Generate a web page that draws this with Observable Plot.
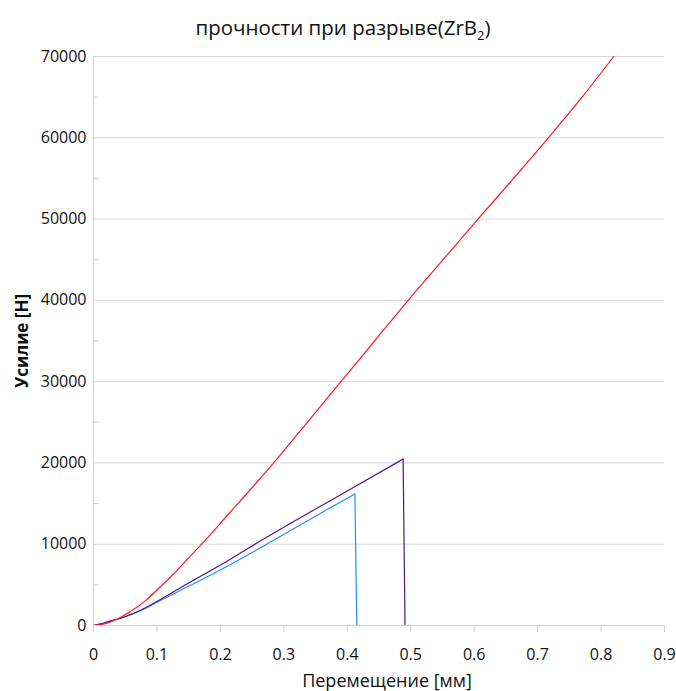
<!DOCTYPE html>
<html>
<head>
<meta charset="utf-8">
<script src="https://cdn.jsdelivr.net/npm/d3@7"></script>
<script src="https://cdn.jsdelivr.net/npm/@observablehq/plot@0.6"></script>
<style>
  html, body { margin: 0; padding: 0; background: #fff; }
  #title { box-sizing: border-box; height: 40px; padding-top: 9px; width: 676px; text-align: center; font-family: "Open Sans", "Noto Sans", sans-serif; font-size: 20.5px; line-height: 36px; color: #111; position: relative; left: 5px; }
  #title sub { font-size: 13px; line-height: 0; }
  svg { display: block; }
</style>
</head>
<body>
<div id="title">прочности при разрыве(ZrB<sub>2</sub>)</div>
<div id="chart"></div>
<script>
const titleText = "прочности при разрыве(ZrB2)";
const xLabel = "Перемещение [мм]";
const yLabel = "Усилие [Н]";
const xTicks = [0, 0.1, 0.2, 0.3, 0.4, 0.5, 0.6, 0.7, 0.8, 0.9];
const yMajor = [0, 10000, 20000, 30000, 40000, 50000, 60000, 70000];
const yMinor = [5000, 15000, 25000, 35000, 45000, 55000, 65000];

// red series
const redX = [0, 0.02, 0.04, 0.06, 0.081, 0.1047, 0.1257, 0.1468, 0.1704, 0.215, 0.2596, 0.284, 0.337, 0.39, 0.443, 0.496, 0.551, 0.606, 0.662, 0.717, 0.77, 0.82];
const redY = [0, 250, 900, 1800, 3000, 4700, 6300, 8050, 10000, 13900, 17810, 20000, 25000, 30000, 35000, 40000, 45000, 50000, 55000, 60000, 65000, 70000];
// purple series (loading part, then fracture drop)
const purX = [0, 0.01, 0.02, 0.047, 0.075, 0.1, 0.152, 0.205, 0.2596, 0.31, 0.4, 0.488];
const purY = [0, 160, 400, 1020, 1900, 2950, 5320, 7650, 10250, 12550, 16550, 20480];
const purDropX = [0.488, 0.491];
const purDropY = [20480, 0];
// blue series (loading part, then fracture drop)
const bluX = [0, 0.01, 0.02, 0.047, 0.075, 0.1, 0.152, 0.205, 0.2596, 0.31, 0.36, 0.412];
const bluY = [0, 160, 400, 1000, 1850, 2860, 4910, 7050, 9400, 11650, 13900, 16180];
const bluDropX = [0.412, 0.415];
const bluDropY = [16180, 0];

const toRows = (xs, ys) => xs.map((x, i) => ({x, y: ys[i]}));
const red = toRows(redX, redY);
const pur = toRows(purX, purY);
const purDrop = toRows(purDropX, purDropY);
const blu = toRows(bluX, bluY);
const bluDrop = toRows(bluDropX, bluDropY);

const font = `"Open Sans", "Noto Sans", sans-serif`;
const blue = "#1e8fff", purple = "#4a1888", redC = "#ff1a1a";

const chart = Plot.plot({
  width: 676,
  height: 651,
  marginLeft: 93,
  marginRight: 12,
  marginTop: 16,
  marginBottom: 66,
  style: { fontFamily: font, fontSize: "16px", color: "#111", background: "#fff" },
  x: { domain: [0, 0.9] },
  y: { domain: [0, 70000] },
  marks: [
    Plot.ruleY(yMajor.filter(d => d > 0), { stroke: "#d9d9d9", strokeWidth: 1 }),
    Plot.axisY({ ticks: yMinor, tickSize: -6, label: null, stroke: "#d0d0d0", text: null }),
    Plot.axisY({ ticks: yMajor, tickSize: 0, tickPadding: 7, tickFormat: d => String(d), label: null, fontSize: 16 }),
    Plot.axisX({ ticks: xTicks, tickSize: 7, tickPadding: 16, tickFormat: d => String(d), label: null, stroke: "#d0d0d0", fontSize: 16 }),
    Plot.ruleX([0], { stroke: "#d0d0d0" }),
    Plot.ruleY([0], { stroke: "#d0d0d0" }),
    Plot.line(blu, { x: "x", y: "y", stroke: blue, strokeWidth: 1.2, curve: "monotone-x", clip: true }),
    Plot.line(bluDrop, { x: "x", y: "y", stroke: blue, strokeWidth: 1.2, clip: true }),
    Plot.line(pur, { x: "x", y: "y", stroke: purple, strokeWidth: 1.2, curve: "monotone-x", clip: true }),
    Plot.line(purDrop, { x: "x", y: "y", stroke: purple, strokeWidth: 1.2, clip: true }),
    Plot.line(red, { x: "x", y: "y", stroke: redC, strokeWidth: 1.2, curve: "monotone-x", clip: true }),
    Plot.text([xLabel], { frameAnchor: "bottom", dy: 61, dx: 8, fontSize: 18, fill: "#111" }),
    Plot.text([yLabel], { frameAnchor: "left", dx: -71, rotate: -90, textAnchor: "middle", fontSize: 17, fontWeight: "bold", fill: "#111" })
  ]
});
document.getElementById("chart").appendChild(chart);
</script>
</body>
</html>
